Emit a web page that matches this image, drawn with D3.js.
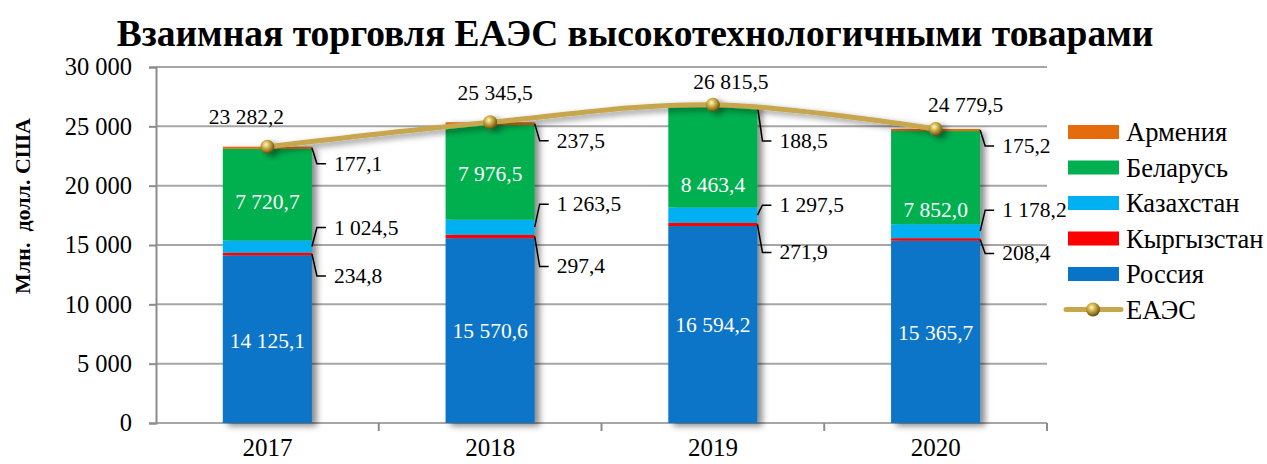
<!DOCTYPE html>
<html>
<head>
<meta charset="utf-8">
<script src="https://cdn.jsdelivr.net/npm/d3@7/dist/d3.min.js"></script>
<style>
  body { margin: 0; background: #fff; }
  svg { display: block; font-family: "Liberation Serif", "Times New Roman", serif; }
</style>
</head>
<body>
<svg></svg>
<script>
let years = ['2017', '2018', '2019', '2020']
let russia = [14125.1, 15570.6, 16594.2, 15365.7]
let kyrgyzstan = [234.8, 297.4, 271.9, 208.4]
let kazakhstan = [1024.5, 1263.5, 1297.5, 1178.2]
let belarus = [7720.7, 7976.5, 8463.4, 7852.0]
let armenia = [177.1, 237.5, 188.5, 175.2]
let eaeu = [23282.2, 25345.5, 26815.5, 24779.5]
let yTicks = [0, 5000, 10000, 15000, 20000, 25000, 30000]

// stacked from bottom to top
let series = [
  { name: 'Россия', values: russia, color: '#0874c8', inside: true },
  { name: 'Кыргызстан', values: kyrgyzstan, color: '#ff0000' },
  { name: 'Казахстан', values: kazakhstan, color: '#00b0f0' },
  { name: 'Беларусь', values: belarus, color: '#00b050', inside: true },
  { name: 'Армения', values: armenia, color: '#e46c0a' }
]
let legendOrder = ['Армения', 'Беларусь', 'Казахстан', 'Кыргызстан', 'Россия']

// manual label nudges (px), as in the original chart
let nudge = {
  'Россия': [2, 0, 0, 1],
  'Беларусь': [7, 2, 28, 32],
  'Армения': [16, 17, 35, 16],
  'Казахстан': [-19, -23, -10, -21],
  'Кыргызстан': [22, 30, 28, 14]
}
let totalDx = [-21, 5, 18, 30]
let totalDy = [-30, -29, -23, -24]

let w = 1267
let h = 464
let plotLeft = 156
let plotRight = 1047
let plotTop = 67
let plotBottom = 423
let lineColor = '#c6a74e'

let svg = d3.select('svg').attr('width', w).attr('height', h)

let fmt = (v, dec) => d3.format(dec ? ',.1f' : ',')(v).replace(/,/g, ' ').replace('.', ',')

let x = d3.scaleBand().domain(years).range([plotLeft, plotRight]).paddingInner(0.6).paddingOuter(0.3)
let y = d3.scaleLinear().domain([0, 30000]).range([plotBottom, plotTop])

let defs = svg.append('defs')
let shadow = defs.append('filter').attr('id', 'shadow')
  .attr('x', '-20%').attr('y', '-20%').attr('width', '160%').attr('height', '140%')
shadow.append('feDropShadow').attr('dx', 5).attr('dy', 3).attr('stdDeviation', 3)
  .attr('flood-color', '#000').attr('flood-opacity', 0.45)
let ball = defs.append('radialGradient').attr('id', 'ball')
  .attr('cx', '40%').attr('cy', '35%').attr('r', '65%')
ball.append('stop').attr('offset', '0%').attr('stop-color', '#fff8c8')
ball.append('stop').attr('offset', '35%').attr('stop-color', '#d8bb55')
ball.append('stop').attr('offset', '80%').attr('stop-color', '#8d7020')
ball.append('stop').attr('offset', '100%').attr('stop-color', '#5e4a12')

// title
svg.append('text')
  .attr('x', 635).attr('y', 46)
  .attr('text-anchor', 'middle')
  .attr('font-size', 37.5).attr('font-weight', 'bold')
  .text('Взаимная торговля ЕАЭС высокотехнологичными товарами')

// y title
svg.append('text')
  .attr('transform', 'translate(30,' + 206 + ') rotate(-90)')
  .attr('text-anchor', 'middle')
  .attr('font-size', 22).attr('font-weight', 'bold')
  .attr('xml:space', 'preserve')
  .text('Млн.  долл. США')

// grid
svg.append('g').selectAll('line')
  .data(yTicks)
  .enter()
  .append('line')
  .attr('x1', plotLeft).attr('x2', plotRight)
  .attr('y1', d => y(d)).attr('y2', d => y(d))
  .attr('stroke', '#a6a6a6').attr('stroke-width', 2)

// y axis
let yAxis = d3.axisLeft(y).tickValues(yTicks).tickSize(7).tickPadding(17).tickFormat(d => fmt(d))
let ya = svg.append('g').attr('transform', 'translate(' + plotLeft + ',0)').call(yAxis)
ya.select('.domain').attr('stroke', '#8c8c8c').attr('stroke-width', 2)
ya.selectAll('.tick line').attr('stroke', '#8c8c8c').attr('stroke-width', 2)
ya.selectAll('.tick text').attr('font-size', 24.5).attr('font-family', 'Liberation Serif').attr('fill', '#000')

// x axis
let xAxis = d3.axisBottom(x).tickSize(0).tickPadding(15)
let xa = svg.append('g').attr('transform', 'translate(0,' + plotBottom + ')').call(xAxis)
xa.select('.domain').remove()
xa.selectAll('.tick text').attr('font-size', 25).attr('font-family', 'Liberation Serif').attr('fill', '#000')
let gap = x.step() * x.paddingInner() / 2
svg.append('g').selectAll('line')
  .data(years)
  .enter()
  .append('line')
  .attr('x1', d => x(d) + x.bandwidth() + gap).attr('x2', d => x(d) + x.bandwidth() + gap)
  .attr('y1', plotBottom).attr('y2', plotBottom + 8)
  .attr('stroke', '#8c8c8c').attr('stroke-width', 2)

// stacked bars
let stackRows = years.map((yr, i) => {
  let row = { year: yr }
  series.forEach(s => { row[s.name] = s.values[i] })
  return row
})
let stacked = d3.stack().keys(series.map(s => s.name))(stackRows)

let bars = svg.append('g').attr('filter', 'url(#shadow)')
stacked.forEach((layer, li) => {
  bars.selectAll('rect.s' + li)
    .data(layer)
    .enter()
    .append('rect')
    .attr('class', 's' + li)
    .attr('x', d => x(d.data.year))
    .attr('width', x.bandwidth())
    .attr('y', d => y(d[1]))
    .attr('height', d => y(d[0]) - y(d[1]))
    .attr('fill', series[li].color)
})

// bar labels
let labels = svg.append('g').attr('font-size', 21.5)
stacked.forEach((layer, li) => {
  let s = series[li]
  layer.forEach((d, i) => {
    let mid = (y(d[0]) + y(d[1])) / 2
    let ly = mid + nudge[s.name][i]
    if (s.inside) {
      labels.append('text')
        .attr('x', x(d.data.year) + x.bandwidth() / 2)
        .attr('y', ly)
        .attr('text-anchor', 'middle')
        .attr('dominant-baseline', 'central')
        .attr('fill', '#fff')
        .text(fmt(s.values[i], true))
    } else {
      let bx = x(d.data.year) + x.bandwidth()
      labels.append('path')
        .attr('d', 'M' + bx + ',' + mid + 'L' + (bx + 5) + ',' + ly + 'L' + (bx + 14) + ',' + ly)
        .attr('fill', 'none').attr('stroke', '#000').attr('stroke-width', 1.5)
      labels.append('text')
        .attr('x', bx + 22)
        .attr('y', ly)
        .attr('dominant-baseline', 'central')
        .attr('fill', '#000')
        .text(fmt(s.values[i], true))
    }
  })
})

// EAEU line
let cx = d => x(d) + x.bandwidth() / 2
let line = d3.line()
  .x((d, i) => cx(years[i]))
  .y(d => y(d))
  .curve(d3.curveCatmullRom)
let lineG = svg.append('g').attr('filter', 'url(#shadow)')
lineG.append('path')
  .attr('d', line(eaeu))
  .attr('fill', 'none')
  .attr('stroke', lineColor)
  .attr('stroke-width', 5)
lineG.selectAll('circle')
  .data(eaeu)
  .enter()
  .append('circle')
  .attr('cx', (d, i) => cx(years[i]))
  .attr('cy', d => y(d))
  .attr('r', 7)
  .attr('fill', 'url(#ball)')

svg.append('g').selectAll('text')
  .data(eaeu)
  .enter()
  .append('text')
  .attr('x', (d, i) => cx(years[i]) + totalDx[i])
  .attr('y', (d, i) => y(d) + totalDy[i])
  .attr('text-anchor', 'middle')
  .attr('dominant-baseline', 'central')
  .attr('font-size', 21.5)
  .text(d => fmt(d, true))

// legend
let colorOf = {}
series.forEach(s => { colorOf[s.name] = s.color })
let legend = svg.append('g').attr('transform', 'translate(1068,132)')
legendOrder.forEach((name, i) => {
  legend.append('rect')
    .attr('x', 0).attr('y', i * 35.5 - 7)
    .attr('width', 51).attr('height', 14)
    .attr('fill', colorOf[name])
  legend.append('text')
    .attr('x', 58).attr('y', i * 35.5)
    .attr('dominant-baseline', 'central')
    .attr('font-size', 26.5)
    .text(name)
})
let legY = legendOrder.length * 35.5
legend.append('line')
  .attr('x1', -2).attr('x2', 53).attr('y1', legY).attr('y2', legY)
  .attr('stroke', lineColor).attr('stroke-width', 5).attr('stroke-linecap', 'round')
legend.append('circle')
  .attr('cx', 25).attr('cy', legY).attr('r', 7).attr('fill', 'url(#ball)')
legend.append('text')
  .attr('x', 58).attr('y', legY)
  .attr('dominant-baseline', 'central')
  .attr('font-size', 26.5)
  .text('ЕАЭС')
</script>
</body>
</html>
